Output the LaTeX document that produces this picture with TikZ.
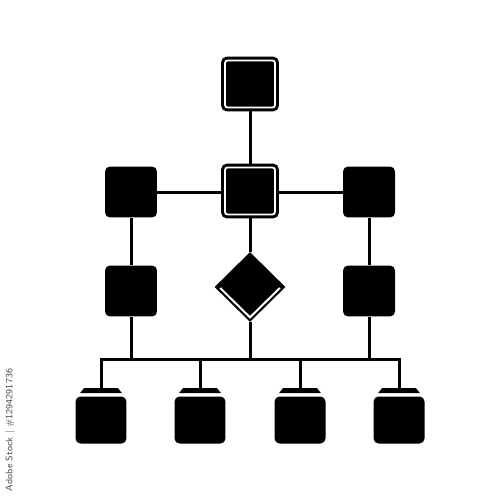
\documentclass[tikz,border=0pt]{standalone}
\usetikzlibrary{shapes.geometric}
\begin{document}
\begin{tikzpicture}[x=0.02cm,y=-0.02cm,
  conn/.style={line width=0.06cm,black},
  dframe/.style={rectangle,inner sep=0,draw=black,fill=black,double=white,double distance=0.035cm,line width=0.06cm,rounded corners=0.05cm,minimum width=1.0cm,minimum height=0.94cm},
  sbox/.style={rectangle,inner sep=0,fill=black,rounded corners=0.1cm,minimum width=1.04cm,minimum height=1.02cm},
  bbox/.style={rectangle,inner sep=0,fill=black,rounded corners=0.1cm,minimum width=1.02cm,minimum height=0.94cm},
  dec/.style={diamond,inner sep=0,fill=black,minimum width=1.42cm,minimum height=1.4cm},
  wmark/.style={font=\fontsize{5.4}{6}\selectfont\sffamily,text=black!70}]
\fill[white] (0,0) rectangle (500,500);
\useasboundingbox (0,0) rectangle (500,500);
% nodes
\node[dframe] (top) at (250,84) {};
\node[dframe] (mid) at (250,191) {};
\node[sbox] (L1) at (131,192) {};
\node[sbox] (L2) at (131,291) {};
\node[sbox] (R1) at (369,192) {};
\node[sbox] (R2) at (369,291) {};
\node[dec] (d) at (250,287) {};
\draw[white,line width=0.04cm] ([shift={(6,1)}]d.west) -- ([shift={(0,-5)}]d.south) -- ([shift={(-6,1)}]d.east);
\node[bbox] (b1) at (101,420) {};
\node[bbox] (b2) at (200,420) {};
\node[bbox] (b3) at (300,420) {};
\node[bbox] (b4) at (399,420) {};
\foreach \b in {b1,b2,b3,b4}{
  \fill ([shift={(-21,-3)}]\b.north) -- ([shift={(-17,-8)}]\b.north) -- ([shift={(17,-8)}]\b.north) -- ([shift={(21,-3)}]\b.north) -- cycle;
  \coordinate (\b c) at ([shift={(0,-8)}]\b.north);
}
\coordinate (busL) at (99.5,359);
\coordinate (busR) at (400.5,359);
% connectors
\draw[conn] (top.south) -- (mid.north);
\draw[conn] (mid.west |- L1.east) -- (L1.east);
\draw[conn] (mid.east |- R1.west) -- (R1.west);
\draw[conn] (L1) -- (L2);
\draw[conn] (R1) -- (R2);
\draw[conn] (mid.south) -- (d.north);
\draw[conn] (d.south) -- (d.south |- busL);
\draw[conn] (L2.south) -- (L2.south |- busL);
\draw[conn] (R2.south) -- (R2.south |- busL);
\draw[conn] (busL) -- (busR);
\foreach \b in {b1,b2,b3,b4}{
  \draw[conn] (\b c |- busL) -- (\b c);
}
\node[wmark,rotate=90] (wm) at (10,430) {Adobe Stock | \#1294291736};
\end{tikzpicture}
\end{document}
